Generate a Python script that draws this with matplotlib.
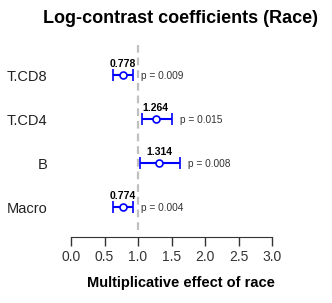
import matplotlib
matplotlib.use("Agg")
import matplotlib.pyplot as plt

plt.rcParams['font.family'] = ['Liberation Sans', 'DejaVu Sans']

cell_types = ["T.CD8", "T.CD4", "B", "Macro"]
estimates = [0.778, 1.264, 1.314, 0.774]
ci_low = [0.63, 1.06, 1.03, 0.63]
ci_high = [0.92, 1.51, 1.63, 0.92]
p_values = ["p = 0.009", "p = 0.015", "p = 0.008", "p = 0.004"]
xticks = [0.0, 0.5, 1.0, 1.5, 2.0, 2.5, 3.0]

fig = plt.figure(figsize=(3.32, 3.03), dpi=100)
ax = fig.add_axes([0.2139, 0.241, 0.6054, 0.61])

ypos = list(range(len(cell_types), 0, -1))

ax.axvline(1.0, color='#c0c0c0', lw=1.6, ls=(0, (3.5, 2.2)), zorder=1)

for y, est, lo, hi, p in zip(ypos, estimates, ci_low, ci_high, p_values):
    ax.errorbar(est, y, xerr=[[est - lo], [hi - est]], fmt='o', color='#0000ff',
                ecolor='#0000ff', elinewidth=1.5, capsize=4, capthick=1.5,
                markersize=5, markerfacecolor='white', markeredgewidth=1.2, zorder=3)
    ax.text(est, y + 0.13, f"{est:.3f}", ha='center', va='bottom', fontsize=7.5,
            fontweight='bold', color='black')
    ax.text(hi + 0.12, y - 0.03, p, ha='left', va='center', fontsize=7.3, color='#333333')

ax.set_xlim(0, 3)
ax.set_ylim(0.48, 4.68)
ax.set_xticks(xticks)
ax.set_xticklabels([f"{t:.1f}" for t in xticks], fontsize=10, color='#222222')
ax.set_yticks(ypos)
ax.set_yticklabels(cell_types, fontsize=10.5, color='#222222')
ax.tick_params(axis='y', length=0, pad=17)
ax.tick_params(axis='x', length=6.5, width=1, direction='out', pad=3, colors='#333333')
for lab in ax.get_xticklabels():
    lab.set_color('#222222')

for side in ['top', 'right', 'left']:
    ax.spines[side].set_visible(False)
ax.spines['bottom'].set_position(('outward', 5))
ax.spines['bottom'].set_color('#333333')
ax.spines['bottom'].set_bounds(0, 3)

ax.set_xlabel("Multiplicative effect of race", fontsize=10.5, fontweight='bold')
ax.xaxis.set_label_coords(0.547, -0.286)
ax.xaxis.label.set_va('center')

fig.text(0.545, 0.938, "Log-contrast coefficients (Race)", ha='center', va='center',
         fontsize=13, fontweight='bold')

fig.savefig("out.png", dpi=100)
